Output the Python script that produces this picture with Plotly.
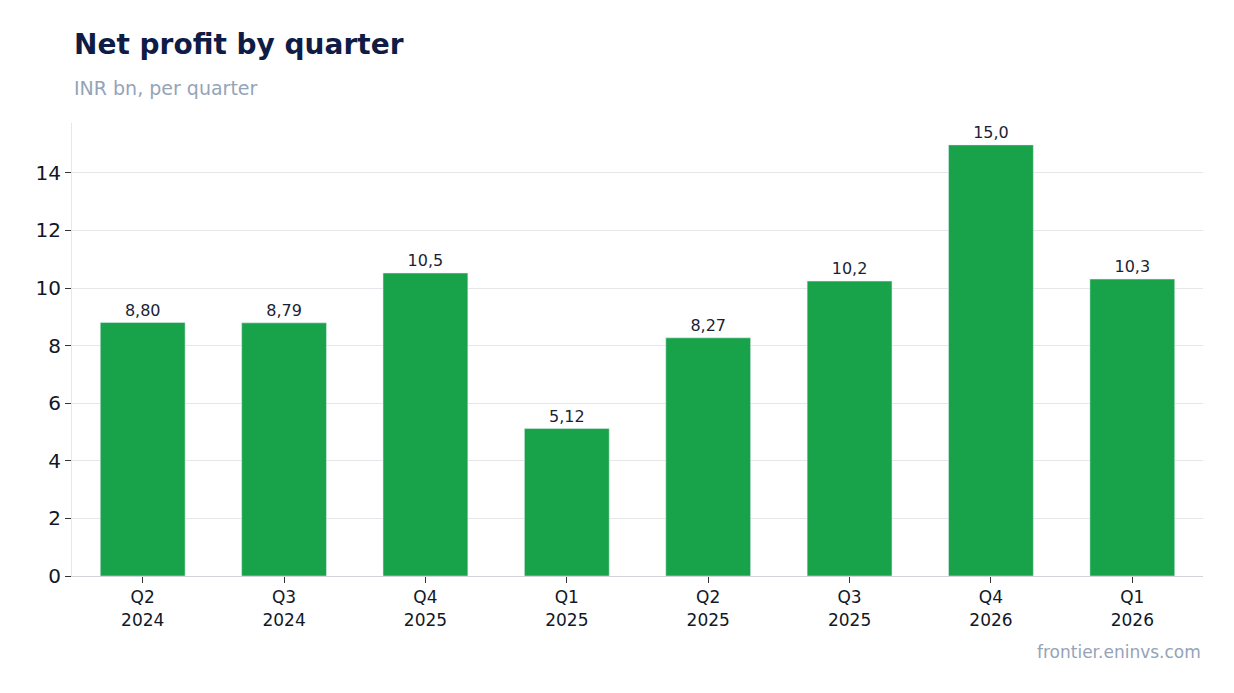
import plotly.graph_objects as go

categories = ["Q2<br>2024", "Q3<br>2024", "Q4<br>2025", "Q1<br>2025", "Q2<br>2025", "Q3<br>2025", "Q4<br>2026", "Q1<br>2026"]
values = [8.80, 8.79, 10.52, 5.12, 8.27, 10.24, 14.97, 10.31]
labels = ["8,80", "8,79", "10,5", "5,12", "8,27", "10,2", "15,0", "10,3"]

fig = go.Figure(go.Bar(
    x=categories, y=values, text=labels, textposition="outside",
    marker_color="#18a34a", width=0.6, cliponaxis=False,
    textfont=dict(size=16, color="#1a1f36"),
))
fig.update_layout(
    width=1234, height=693, plot_bgcolor="white", paper_bgcolor="white",
    font=dict(family="DejaVu Sans", color="#111827"),
    margin=dict(l=64, r=39, t=115, b=125),
    showlegend=False,
)
fig.add_annotation(text="<b>Net profit by quarter</b>", xref="paper", yref="paper", x=0, y=1, yshift=79,
                   xanchor="left", yanchor="middle", showarrow=False, font=dict(size=28, color="#0f1c45"))
fig.add_annotation(text="INR bn, per quarter", xref="paper", yref="paper", x=0, y=1, yshift=35,
                   xanchor="left", yanchor="middle", showarrow=False, font=dict(size=19, color="#94a3b8"))
fig.add_annotation(text="frontier.eninvs.com", xref="paper", yref="paper", x=1, y=0, yshift=-76,
                   xanchor="right", yanchor="middle", showarrow=False, font=dict(size=17, color="#94a3b8"))
fig.update_yaxes(range=[0, 15.73], dtick=2, gridcolor="#e5e7eb", showline=True, linecolor="#e5e7eb",
                 ticks="outside", tickcolor="#333", ticklen=6, tickfont=dict(size=20), zeroline=False)
fig.update_xaxes(showline=True, linecolor="#d1d5db", ticks="outside", tickcolor="#333", ticklen=6,
                 tickfont=dict(size=17))
fig.write_html("out.html")
